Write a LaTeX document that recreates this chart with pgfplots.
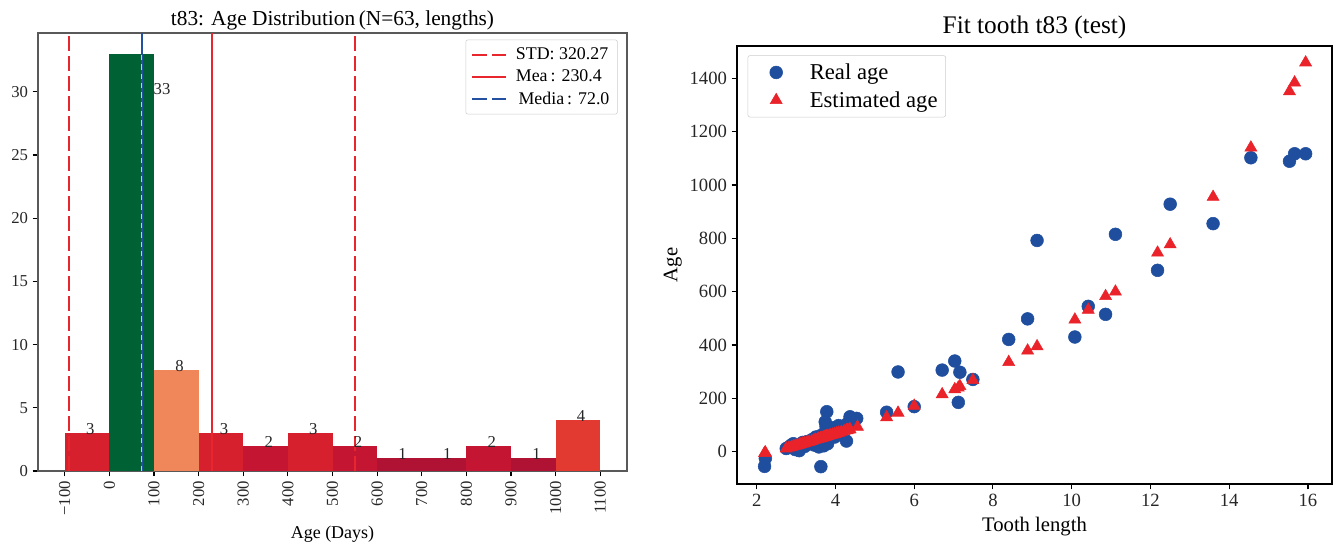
\documentclass[border=0pt]{standalone}
\usepackage{pgfplots}
\pgfplotsset{compat=1.18}
\usepackage{fontspec}
\setmainfont{Liberation Serif}
\definecolor{cThree}{RGB}{215,32,46}
\definecolor{cTwo}{RGB}{196,22,50}
\definecolor{cOne}{RGB}{175,18,50}
\definecolor{cFour}{RGB}{226,58,48}
\definecolor{cEight}{RGB}{240,135,90}
\definecolor{cGreen}{RGB}{0,98,52}
\definecolor{stdred}{RGB}{232,38,45}
\definecolor{medblue}{RGB}{35,80,160}
\definecolor{realblue}{RGB}{31,78,158}
\definecolor{estred}{RGB}{234,35,43}
\pgfplotstableread{
x y
2.20 -55
2.22 -25
3.63 -56
2.75 12
2.82 18
2.88 25
2.93 30
2.98 8
3.03 15
3.08 4
3.12 28
3.17 35
3.22 20
3.28 38
3.33 30
3.40 45
3.46 25
3.50 55
3.55 40
3.58 18
3.62 60
3.66 48
3.70 22
3.72 70
3.76 95
3.80 30
3.84 80
3.88 62
3.93 90
3.98 55
4.03 75
4.08 98
4.15 65
4.22 85
4.28 40
4.35 92
4.30 105
3.78 150
3.74 112
4.37 131
4.54 125
5.30 148
5.59 299
6.00 169
6.71 306
7.03 340
7.16 298
7.12 185
7.49 271
8.40 421
8.88 498
9.12 792
10.08 430
10.42 545
10.86 515
11.11 815
12.18 680
12.50 928
13.59 855
14.55 1102
15.53 1089
15.66 1117
15.94 1117
}\realtab
\pgfplotstableread{
x y
2.20 -5
2.22 -3
3.63 51
2.75 12
2.82 15
2.88 17
2.93 20
2.98 22
3.03 24
3.08 26
3.12 28
3.17 30
3.22 32
3.28 35
3.33 37
3.40 40
3.46 43
3.50 45
3.55 47
3.58 49
3.62 50
3.66 52
3.70 54
3.72 55
3.76 57
3.80 58
3.84 60
3.88 62
3.93 64
3.98 66
4.03 69
4.08 71
4.15 74
4.22 77
4.28 80
4.35 83
4.30 81
3.78 58
3.74 56
4.37 84
4.56 93
5.30 129
5.59 146
6.00 172
6.71 215
7.03 234
7.16 246
7.12 240
7.49 268
8.40 336
8.88 379
9.12 395
10.08 495
10.42 532
10.86 583
11.11 600
12.18 746
12.50 777
13.59 955
14.55 1140
15.53 1351
15.66 1384
15.94 1459
}\esttab
\begin{document}
\begin{tikzpicture}
\path[use as bounding box] (0,0) rectangle (1002pt,408.75pt);
\begin{axis}[
 at={(28.5pt,55.5pt)}, anchor=south west, scale only axis,
 width=441.75pt, height=328.5pt,
 xmin=-160, xmax=1160, ymin=0, ymax=34.65,
 xtick={-100,0,100,200,300,400,500,600,700,800,900,1000,1100},
 xticklabels={−100,0,100,200,300,400,500,600,700,800,900,1000,1100},
 ytick={0,5,...,30},
 tick align=outside, tick pos=left,
 major tick length=4pt,
 every tick/.style={black, line width=0.8pt},
 axis line style={draw=black!65, line width=1pt},
 /pgf/number format/assume math mode=true,
 /pgf/number format/1000 sep={},
 tick label style={font=\fontsize{12.5}{13}\selectfont, text=black!85},
 x tick label style={rotate=90, anchor=east},
 title={t83: Age Distribution\,(N=63, lengths)},
 title style={font=\fontsize{16}{17}\selectfont, yshift=-7pt},
 xlabel={Age (Days)}, xlabel style={font=\fontsize{13.5}{14}\selectfont, yshift=-1pt},
 legend style={at={(1,1)}, anchor=north east, xshift=-7pt, yshift=-5pt, draw=black!20, rounded corners=1.5pt, font=\fontsize{13.4}{14}\selectfont, row sep=2pt, inner sep=4pt},
 legend cell align=left,
 legend image code/.code={\draw[#1] (0pt,0pt) -- (25pt,0pt); \path (0pt,0pt) (30pt,0pt);},
]
\addplot[fill=cThree, draw=none, forget plot] coordinates {(-100,0)(-100,3)(0,3)(0,0)} -- cycle;
\addplot[fill=cGreen, draw=none, forget plot] coordinates {(0,0)(0,33)(100,33)(100,0)} -- cycle;
\addplot[fill=cEight, draw=none, forget plot] coordinates {(100,0)(100,8)(200,8)(200,0)} -- cycle;
\addplot[fill=cThree, draw=none, forget plot] coordinates {(200,0)(200,3)(300,3)(300,0)} -- cycle;
\addplot[fill=cTwo, draw=none, forget plot] coordinates {(300,0)(300,2)(400,2)(400,0)} -- cycle;
\addplot[fill=cThree, draw=none, forget plot] coordinates {(400,0)(400,3)(500,3)(500,0)} -- cycle;
\addplot[fill=cTwo, draw=none, forget plot] coordinates {(500,0)(500,2)(600,2)(600,0)} -- cycle;
\addplot[fill=cOne, draw=none, forget plot] coordinates {(600,0)(600,1)(700,1)(700,0)} -- cycle;
\addplot[fill=cOne, draw=none, forget plot] coordinates {(700,0)(700,1)(800,1)(800,0)} -- cycle;
\addplot[fill=cTwo, draw=none, forget plot] coordinates {(800,0)(800,2)(900,2)(900,0)} -- cycle;
\addplot[fill=cOne, draw=none, forget plot] coordinates {(900,0)(900,1)(1000,1)(1000,0)} -- cycle;
\addplot[fill=cFour, draw=none, forget plot] coordinates {(1000,0)(1000,4)(1100,4)(1100,0)} -- cycle;
\addplot[stdred, line width=1.6pt, dash pattern=on 11pt off 4pt] coordinates {(-89.87,0)(-89.87,34.65)};
\addlegendentry{STD: 320.27}
\addplot[stdred, line width=1.6pt, dash pattern=on 11pt off 4pt, forget plot] coordinates {(550.67,0)(550.67,34.65)};
\addplot[stdred, line width=1.6pt] coordinates {(230.4,0)(230.4,34.65)};
\addlegendentry{Mea\,: 230.4}
\addplot[medblue, line width=1.5pt, forget plot] coordinates {(72,0)(72,34.65)};
\addplot[white!80!green, opacity=0.8, line width=0.5pt, dash pattern=on 4pt off 3pt, forget plot] coordinates {(72,0)(72,33)};
\addlegendimage{medblue, line width=1.5pt, dash pattern=on 11pt off 4pt}
\addlegendentry{\hspace{2pt}Media\,: 72.0}
\begin{scope}[every node/.style={font=\fontsize{12.5}{13}\selectfont, text=black!85, anchor=base, inner sep=0pt, yshift=-1pt}]
\node at (axis cs:-43,3) {3};
\node[anchor=center, yshift=0pt] at (axis cs:118,30.3) {33};
\node at (axis cs:157,8) {8};
\node at (axis cs:257,3) {3};
\node at (axis cs:357,2) {2};
\node at (axis cs:457,3) {3};
\node at (axis cs:557,2) {2};
\node at (axis cs:657,1) {1};
\node at (axis cs:757,1) {1};
\node at (axis cs:857,2) {2};
\node at (axis cs:957,1) {1};
\node at (axis cs:1057,4) {4};
\end{scope}
\end{axis}
\begin{axis}[
 at={(552.75pt,45.75pt)}, anchor=south west, scale only axis,
 width=446.25pt, height=328.5pt,
 xmin=1.50, xmax=16.61, ymin=-121, ymax=1521,
 xtick={2,4,...,16}, ytick={0,200,...,1400},
 tick align=outside, tick pos=left,
 major tick length=4pt,
 every tick/.style={black, line width=0.8pt},
 axis line style={draw=black, line width=0.9pt},
 /pgf/number format/assume math mode=true,
 /pgf/number format/1000 sep={},
 tick label style={font=\fontsize{14}{15}\selectfont, text=black!85},
 title={Fit tooth t83 (test)},
 title style={font=\fontsize{19}{20}\selectfont, yshift=-4pt},
 xlabel={Tooth length}, ylabel={Age},
 label style={font=\fontsize{15.5}{16}\selectfont},
 xlabel style={yshift=-1pt},
 ylabel style={yshift=-1pt},
 legend style={at={(0,1)}, anchor=north west, xshift=8pt, yshift=-7pt, draw=black!20, rounded corners=1.5pt, font=\fontsize{17}{18}\selectfont, row sep=3.5pt, inner sep=4pt},
 legend cell align=left,
 legend image code/.code={\draw[#1] plot coordinates {(17pt,0pt)}; \path (0pt,0pt) (40pt,0pt);},
]
\addplot[only marks, mark=*, mark size=4.8pt, color=realblue] table {\realtab};
\addlegendentry{Real age}
\addplot[only marks, mark=triangle*, mark size=5.2pt, color=estred] table {\esttab};
\addlegendentry{Estimated age}
\end{axis}
\end{tikzpicture}
\end{document}
